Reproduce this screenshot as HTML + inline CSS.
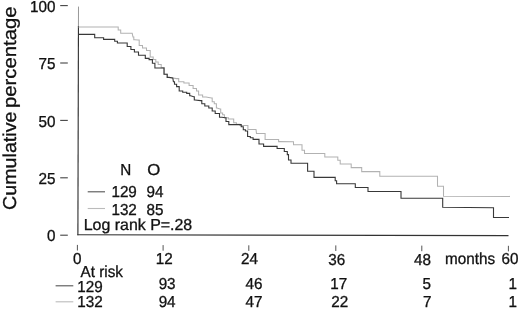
<!DOCTYPE html>
<html><head><meta charset="utf-8"><title>Cumulative percentage</title>
<style>
html,body{margin:0;padding:0;background:#fff;}
svg{display:block}
text{font-family:"Liberation Sans",sans-serif;font-size:15.25px;fill:#111;stroke:#111;stroke-width:0.3px;text-rendering:geometricPrecision;}
.e{text-anchor:end}
.m{text-anchor:middle}
</style></head><body>
<svg width="520" height="309" viewBox="0 0 520 309">
<rect width="520" height="309" fill="#fff"/>

<text transform="translate(15.6,209.9) rotate(-90) scale(1,1.02)" style="font-size:18.3px" textLength="98.3" lengthAdjust="spacingAndGlyphs">Cumulative</text>
<text transform="translate(15.6,108.0) rotate(-90) scale(1,1.02)" style="font-size:18.3px" textLength="101.6" lengthAdjust="spacingAndGlyphs">percentage</text>
<line x1="60.2" y1="5.6" x2="67.8" y2="5.6" stroke="#444" stroke-width="1.1"/>
<text class="e" transform="translate(55.5,12.0) scale(1,1.04)">100</text>
<line x1="60.2" y1="63.0" x2="67.8" y2="63.0" stroke="#444" stroke-width="1.1"/>
<text class="e" transform="translate(55.5,69.3) scale(1,1.04)">75</text>
<line x1="60.2" y1="120.4" x2="67.8" y2="120.4" stroke="#444" stroke-width="1.1"/>
<text class="e" transform="translate(55.5,126.7) scale(1,1.04)">50</text>
<line x1="60.2" y1="177.8" x2="67.8" y2="177.8" stroke="#444" stroke-width="1.1"/>
<text class="e" transform="translate(55.5,184.1) scale(1,1.04)">25</text>
<line x1="60.2" y1="235.2" x2="67.8" y2="235.2" stroke="#444" stroke-width="1.1"/>
<text class="e" transform="translate(55.5,241.4) scale(1,1.04)">0</text>
<line x1="78.5" y1="6.6" x2="78.45" y2="27" stroke="#999" stroke-width="1"/>
<line x1="78.45" y1="26" x2="77.9" y2="235.2" stroke="#333" stroke-width="1.15"/>
<line x1="77.4" y1="234.7" x2="508.5" y2="235.6" stroke="#333" stroke-width="1.15"/>
<polyline fill="none" stroke="#b2b2b2" stroke-width="1.05" points="78.4,26.9 117.5,26.9 118.2,26.9 118.2,30.0 119,30 120.7,30.0 120.7,33.3 122.4,33.3 132.2,33.3 133,37 133.8,37.0 133.8,39.7 134.7,39.7 138,40 139.2,40.0 139.2,45.5 140.5,45.5 142.5,45.5 142.5,48.0 146.5,48.0 146.5,50.4 148.5,50.4 150.2,50.4 150.2,57.0 152,57 153.2,57.0 153.2,59.5 155.8,59.5 155.8,62.0 158.2,62.0 158.2,64.5 159.5,64.5 161.2,64.5 161.2,67.6 163,67.6 164.2,67.6 164.2,74.3 165.4,74.3 167.2,74.3 167.2,77.4 169,77.4 172.8,78 176.5,78.6 178.7,78.6 178.7,81.7 180.8,81.7 183.9,81.7 183.9,83.0 187,83 189.1,83.0 189.1,85.4 191.2,85.4 193.1,85.4 193.1,88.5 195,88.5 196.5,88.5 196.5,91.0 198,91 198.6,91.0 198.6,95.0 199.2,95 202.6,95.0 202.6,97.0 206,97 211.5,98 212.2,98.0 212.2,101.8 212.8,101.8 214.3,101.8 214.3,103.7 215.8,103.7 216.4,103.7 216.4,108.0 217,108 220,109 220.7,109.0 220.7,113.0 221.4,113 222.6,113.0 222.6,114.8 223.8,114.8 224.4,114.8 224.4,117.8 225,117.8 228.4,117.8 228.4,119.0 231.8,119 233.7,119.0 233.7,122.8 235.5,122.8 236.4,122.8 236.4,124.2 237.4,124.2 239.9,124.2 239.9,125.5 242.4,125.5 247.3,125.5 247.9,125.5 247.9,129.5 248.5,129.5 256,129.5 256.5,133.5 264.5,133.5 265.1,133.5 265.1,139.4 265.8,139.4 278,139.4 278.6,139.4 278.6,141.6 279.3,141.6 293.5,141.7 293.5,144.8 302,144.8 302,150.3 304.5,150.3 304.5,153.4 324.8,153.4 324.8,157 337.8,157 337.8,160.2 340.2,160.2 340.2,164 351.2,164 351.2,167.6 361.7,167.6 361.7,171.6 379.8,171.6 379.8,176.3 437.5,176.3 437.5,186.2 443.5,186.2 443.5,196.3 510,196.4"/>
<polyline fill="none" stroke="#383838" stroke-width="1.1" points="78.4,34.4 93.3,34.4 94.7,34.4 94.7,37.8 96,37.8 102.7,37.8 103.6,37.8 103.6,39.4 104.5,39.4 113.8,39.4 114.7,39.4 114.7,41.2 115.6,41.2 117.4,41.2 117.4,43.0 119.3,43 125.5,43 127.2,43.0 127.2,46.5 129,46.5 130.9,46.5 130.9,49.5 132.8,49.5 134.4,49.5 134.4,52.0 136,52 138.5,52.0 138.5,55.3 141,55.3 144,55.3 145.3,55.3 145.3,58.4 146.6,58.4 149.1,58.4 149.1,59.6 151.5,59.6 152.4,59.6 152.4,63.3 153.4,63.3 154.9,63.3 154.9,68.0 156.5,68 162.6,68 164.0,68.0 164.0,74.3 165.4,74.3 167.2,74.3 167.2,77.4 169,77.4 172.8,78 173.4,81.7 174.5,81.7 174.5,84.2 176.6,84.2 176.6,86.6 177.7,86.6 179.2,86.6 179.2,91.0 180.8,91 182.7,91.0 182.7,92.2 184.5,92.2 186.7,92.2 186.7,93.4 188.8,93.4 189.7,93.4 189.7,95.8 190.6,95.8 193.7,96.8 194.3,96.8 194.3,100.0 195,100 200.5,100.6 201.8,100.6 201.8,103.7 203,103.7 204.8,103.7 204.8,106.0 206.6,106 208.8,106.0 208.8,108.0 211,108 212.2,108.0 212.2,111.0 213.4,111 215.2,111.0 215.2,113.5 217,113.5 219.5,113.5 219.5,117.2 222,117.2 225,117.8 226.0,117.8 226.0,121.5 227,121.5 228.8,121.5 228.8,124.6 230.6,124.6 240,124.6 241.2,124.6 241.2,126.7 242.4,126.7 243.3,126.7 243.3,129.8 244.2,129.8 245.4,129.8 245.4,131.0 246.7,131 247.6,131.0 247.6,136.5 248.5,136.5 250.3,136.5 250.3,137.8 252.2,137.8 253.1,137.8 253.1,139.4 254,139.4 258.4,139.4 259.0,139.4 259.0,144.0 259.6,144 262.7,144 263.6,144.0 263.6,146.4 264.5,146.4 276.2,146.4 277.1,146.4 277.1,148.5 278,148.5 283.6,148.5 284.3,148.5 284.3,151.5 285,151.5 287.3,151.5 287.3,154.6 288.5,154.6 288.5,160 291,160 291,163.2 307.6,163.2 307.6,171.3 313,171.3 314.0,171.3 314.0,177.4 315,177.4 334.6,177.4 335.2,177.4 335.2,180.8 335.8,180.8 336.6,180.8 336.6,183.8 337.3,183.8 355.3,183.8 355.3,187.5 368,187.5 368,191.5 401,191.5 401,198.2 442.7,198.3 442.7,207.3 493.5,207.7 493.5,217.5 509,217.5"/>
<text transform="translate(120.2,175.2) scale(1,1.04)">N</text>
<text transform="translate(147.3,175.2) scale(1.1,1.04)">O</text>
<line x1="87.7" y1="191.8" x2="105" y2="191.8" stroke="#555" stroke-width="1.1"/>
<text transform="translate(111.4,197.0) scale(1,1.04)">129</text>
<text transform="translate(146.6,197.0) scale(1,1.04)">94</text>
<line x1="87.7" y1="208.5" x2="105" y2="208.5" stroke="#bbb" stroke-width="1.1"/>
<text transform="translate(111.4,215.1) scale(1,1.04)">132</text>
<text transform="translate(146.6,215.1) scale(1,1.04)">85</text>
<text transform="translate(83.7,230.4) scale(1.045,1.04)">Log rank P=.28</text>
<line x1="77.4" y1="244.9" x2="77.4" y2="250.5" stroke="#555" stroke-width="1"/>
<line x1="163.1" y1="245.1" x2="163.1" y2="250.7" stroke="#555" stroke-width="1"/>
<line x1="248.8" y1="245.3" x2="248.8" y2="250.9" stroke="#555" stroke-width="1"/>
<line x1="335.8" y1="245.4" x2="335.8" y2="251.0" stroke="#555" stroke-width="1"/>
<line x1="421.8" y1="245.6" x2="421.8" y2="251.2" stroke="#555" stroke-width="1"/>
<line x1="508.4" y1="245.8" x2="508.4" y2="251.4" stroke="#555" stroke-width="1"/>
<text class="m" transform="translate(77.2,263.6) scale(1,1.04)">0</text>
<text class="m" transform="translate(164.2,263.8) scale(1,1.04)">12</text>
<text class="m" transform="translate(249.4,263.8) scale(1,1.04)">24</text>
<text class="m" transform="translate(336.7,265.0) scale(1,1.04)">36</text>
<text class="m" transform="translate(422.5,265.0) scale(1,1.04)">48</text>
<text class="m" transform="translate(510,264.0) scale(1,1.04)">60</text>
<text transform="translate(445,263.7) scale(1,1.04)">months</text>
<text transform="translate(80.6,276.7) scale(1,1.04)">At risk</text>
<line x1="55.6" y1="285.8" x2="73.3" y2="285.8" stroke="#555" stroke-width="1.1"/>
<line x1="55.6" y1="301.8" x2="73.3" y2="301.8" stroke="#bbb" stroke-width="1.1"/>
<text transform="translate(77.2,291.5) scale(1,1.04)">129</text>
<text transform="translate(77.2,306.9) scale(1,1.04)">132</text>
<text class="e" transform="translate(175.6,288.7) scale(1,1.04)">93</text>
<text class="e" transform="translate(262.4,288.7) scale(1,1.04)">46</text>
<text class="e" transform="translate(347.2,288.7) scale(1,1.04)">17</text>
<text class="e" transform="translate(431,288.7) scale(1,1.04)">5</text>
<text class="e" transform="translate(517,288.7) scale(1,1.04)">1</text>
<text class="e" transform="translate(175.6,306.5) scale(1,1.04)">94</text>
<text class="e" transform="translate(262.4,306.5) scale(1,1.04)">47</text>
<text class="e" transform="translate(348.3,306.5) scale(1,1.04)">22</text>
<text class="e" transform="translate(431.4,306.5) scale(1,1.04)">7</text>
<text class="e" transform="translate(517,306.5) scale(1,1.04)">1</text>
</svg></body></html>
